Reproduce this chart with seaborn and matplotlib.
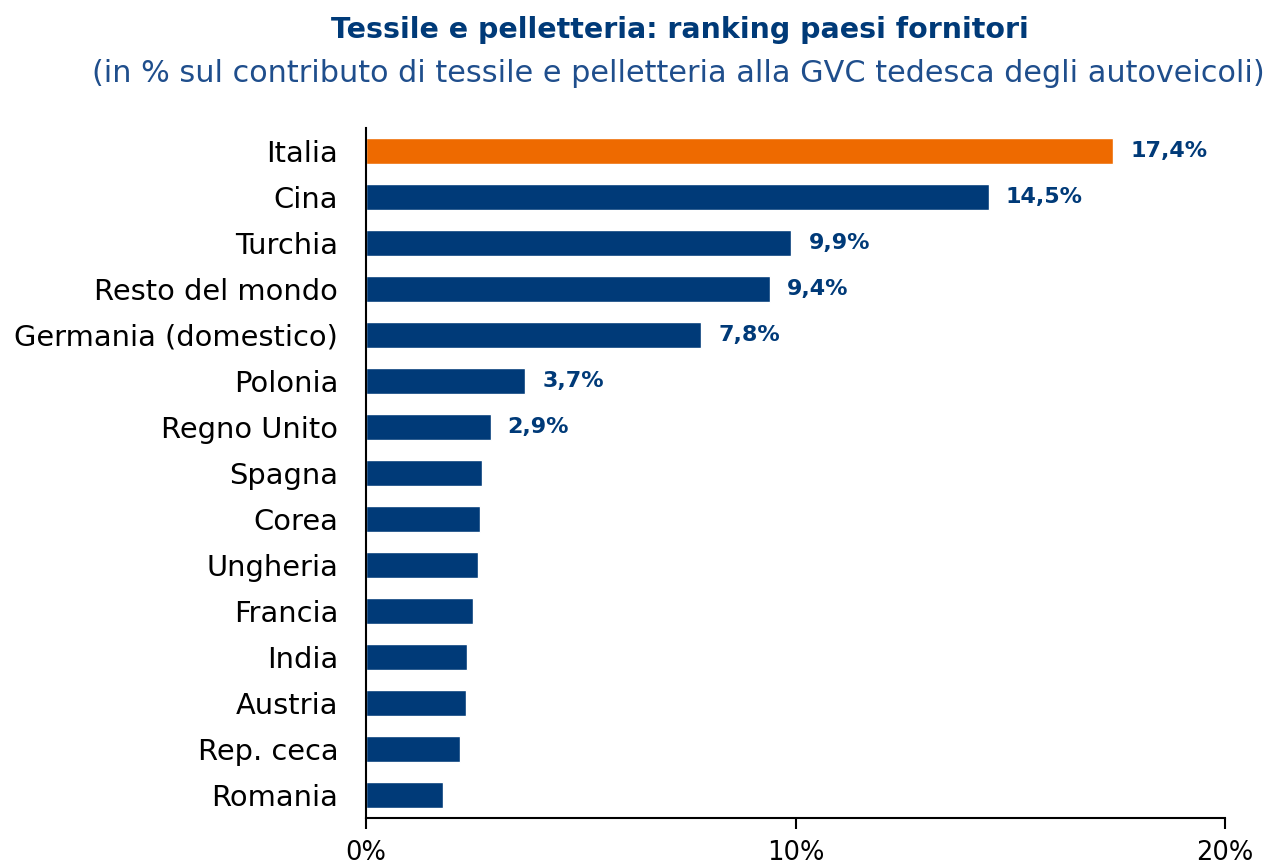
import matplotlib
matplotlib.use("Agg")
import matplotlib.pyplot as plt
import seaborn as sns
import pandas as pd

countries = ["Italia", "Cina", "Turchia", "Resto del mondo", "Germania (domestico)",
             "Polonia", "Regno Unito", "Spagna", "Corea", "Ungheria", "Francia",
             "India", "Austria", "Rep. ceca", "Romania"]
values = [17.4, 14.5, 9.9, 9.4, 7.8, 3.7, 2.9, 2.7, 2.65, 2.6, 2.5, 2.35, 2.33, 2.2, 1.8]
labels = ["17,4%", "14,5%", "9,9%", "9,4%", "7,8%", "3,7%", "2,9%", "", "", "", "", "", "", "", ""]
x_ticks = [0, 10, 20]
x_tick_labels = ["0%", "10%", "20%"]

BLUE = "#003A78"
ORANGE = "#EE6A00"

sns.set_theme(style="white")
plt.rcParams['font.family'] = ['DejaVu Sans']

df = pd.DataFrame({"country": countries, "value": values})
palette = [ORANGE] + [BLUE] * (len(countries) - 1)

fig = plt.figure(figsize=(12.76, 8.68), dpi=100)
ax = fig.add_axes([366/1276, 1-818/868, (1225-366)/1276, 690/868])
sns.barplot(data=df, x="value", y="country", hue="country", palette=palette,
            legend=False, ax=ax, width=0.57, saturation=1, orient="h")

ax.set_xlim(0, 20)
ax.set_ylim(len(countries) - 0.5, -0.5)
ax.set_xticks(x_ticks)
ax.set_xticklabels(x_tick_labels)
ax.set_xlabel("")
ax.set_ylabel("")
for s in ["top", "right"]:
    ax.spines[s].set_visible(False)
for s in ["left", "bottom"]:
    ax.spines[s].set_color("black")
    ax.spines[s].set_linewidth(1.5)
ax.tick_params(axis="x", which="both", bottom=True, length=8, width=1.5, color="black",
               labelsize=18.5, labelcolor="black", pad=8)
ax.tick_params(axis="y", left=False, labelsize=20.8, labelcolor="black", pad=14)

for i, (v, lab) in enumerate(zip(values, labels)):
    if lab:
        ax.text(v + 0.4, i, lab, va="center", ha="left", fontsize=16,
                fontweight="bold", color=BLUE)

fig.text(0.533, 0.965, "Tessile e pelletteria: ranking paesi fornitori", ha="center",
         va="center", fontsize=20.5, fontweight="bold", color=BLUE)
fig.text(0.532, 0.915, "(in % sul contributo di tessile e pelletteria alla GVC tedesca degli autoveicoli)",
         ha="center", va="center", fontsize=21.8, color="#1F4E8C")

fig.savefig("out.png", dpi=100)
